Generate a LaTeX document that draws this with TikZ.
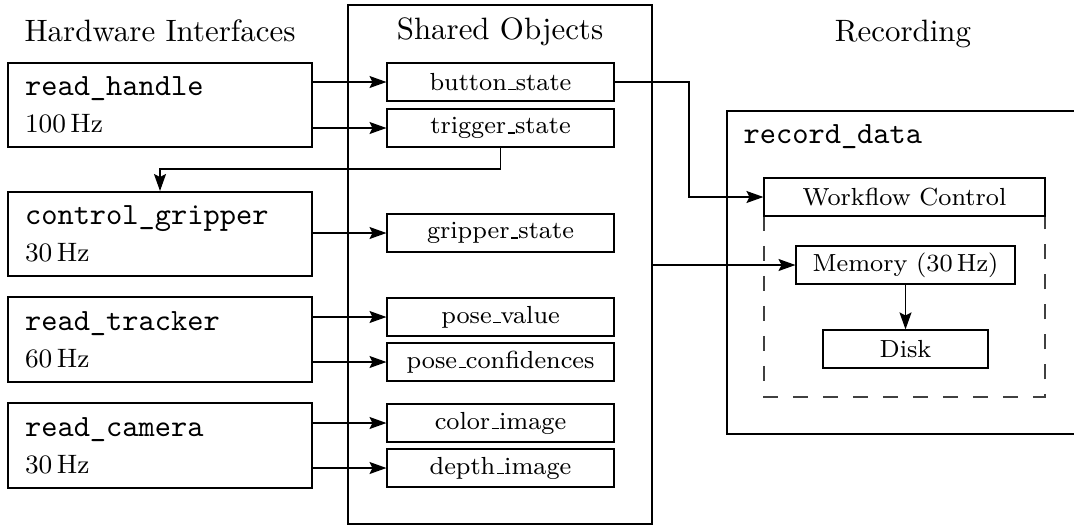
\documentclass[tikz,border=0pt]{standalone}
\usetikzlibrary{arrows.meta}
\newcommand\hzlabel[1]{{\fontsize{8.6}{12}\selectfont #1\,Hz}}
% low rule used as the underscore in roman labels
\newcommand\usc{\leavevmode\kern.06em\vbox{\hrule width.3em}}
\tikzset{
  hwbox/.style={draw, line width=0.65pt, minimum height=27.2pt, text width=87.3pt,
    inner xsep=5.5pt, inner ysep=2pt, align=left},
  objbox/.style={draw, line width=0.4pt, minimum height=12.3pt, inner sep=0pt,
    font=\fontsize{8}{9.6}\selectfont},
  group/.style={draw, line width=0.65pt, inner sep=0pt},
  title/.style={anchor=base},
  conn/.style={line width=0.4pt, -{Stealth[length=5.5pt,width=3.9pt,inset=1pt]}},
  link/.style={line width=0.4pt},
}
\begin{document}
\begin{tikzpicture}[x=0.3235pt, y=-0.3235pt]
\useasboundingbox (0,0) rectangle (1074,527);

% column titles
\node[title] (tHW)  at (160,41.5) {Hardware Interfaces};
\node[title] (tSO)  at (500,39)   {Shared Objects};
\node[title] (tRec) at (903,41.5) {Recording};

% shared objects frame
\node[group, minimum width=98.3pt, minimum height=167.9pt] (shared) at (500,264.5) {};

% hardware interfaces
\node[hwbox] (hand) at (160,105)   {\texttt{read\_handle}\\\hzlabel{100}};
\node[hwbox] (cg)   at (160,234)   {\texttt{control\_gripper}\\\hzlabel{30}};
\node[hwbox] (trk)  at (160,339.5) {\texttt{read\_tracker}\\\hzlabel{60}};
\node[hwbox] (cam)  at (160,445.5) {\texttt{read\_camera}\\\hzlabel{30}};

% shared objects
\begin{scope}[every node/.append style={objbox, minimum width=73.4pt}]
\node (btn)  at (500.5,82)  {button\usc state};
\node (trig) at (500.5,128) {trigger\usc state};
\node (gst)  at (500.5,233) {gripper\usc state};
\node (pv)   at (500.5,317) {pose\usc value};
\node (pc)   at (500.5,362) {pose\usc confidences};
\node (ci)   at (500.5,423) {color\usc image};
\node (di)   at (500.5,468) {depth\usc image};
\end{scope}

% recording process
\node[group, minimum width=117.4pt, minimum height=104.5pt] (rec) at (908.5,272.5) {};
\node[anchor=base west, inner sep=0pt] (recname) at (743,143) {\texttt{record\_data}};
\draw[link, draw=black!75, dash pattern=on 5pt off 4.7pt] (764,216) rectangle (1045,397);
\node[objbox, minimum width=90.9pt, fill=white] (wf) at (904.5,197) {Workflow Control};
\node[objbox, minimum width=70.8pt] (mem)  at (905.5,265) {Memory (30\,Hz)};
\node[objbox, minimum width=53.4pt] (disk) at (905.5,349) {Disk};

% writers into shared objects
\draw[conn] (hand.east |- btn)  -- (btn.west);
\draw[conn] (hand.east |- trig) -- (trig.west);
\draw[conn] (cg.east |- gst)    -- (gst.west);
\draw[conn] (trk.east |- pv)    -- (pv.west);
\draw[conn] (trk.east |- pc)    -- (pc.west);
\draw[conn] (cam.east |- ci)    -- (ci.west);
\draw[conn] (cam.east |- di)    -- (di.west);

% trigger drives the gripper
\coordinate (tbend) at (500.5,169);
\draw[conn] (trig.south) -- (tbend) -| (cg.north);

% button drives the workflow
\coordinate (bbend) at (689,197);
\draw[conn] (btn.east) -| (bbend) -- (wf.west);

% all shared objects are recorded
\draw[conn] (shared.east |- mem) -- (mem.west);
\draw[conn] (mem.south) -- (disk.north);
\end{tikzpicture}
\end{document}
